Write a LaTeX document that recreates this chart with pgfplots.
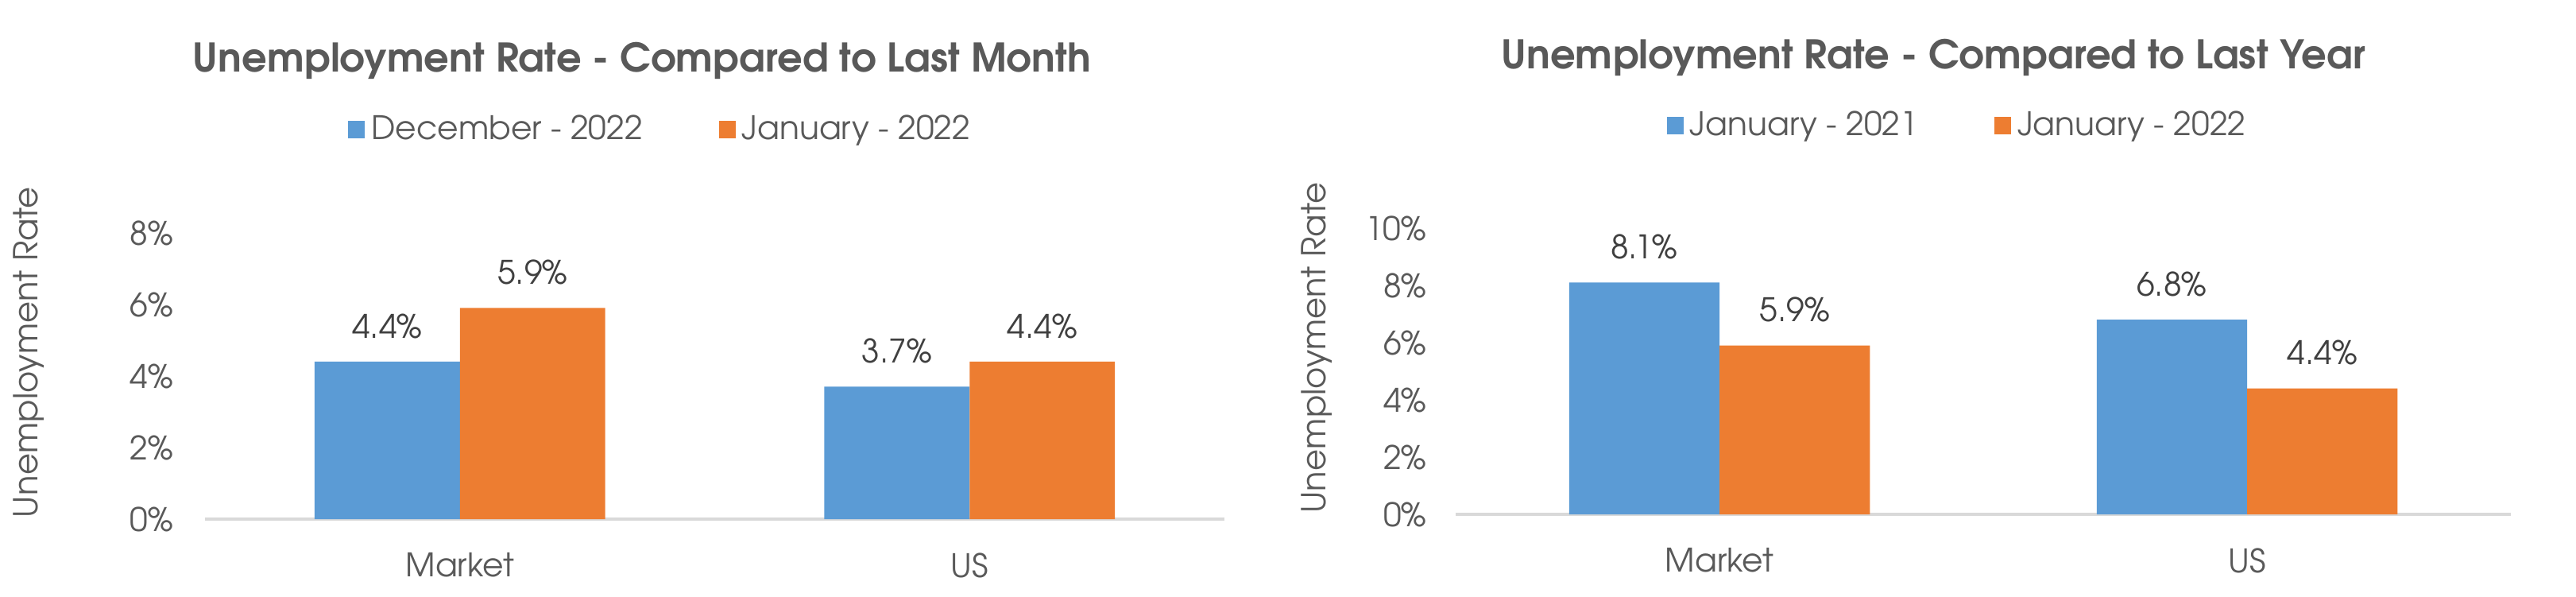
\documentclass[border=0pt]{standalone}
\usepackage{pgfplots}
\pgfplotsset{compat=1.18}
\usepackage{fontspec}
\setmainfont{texgyreadventor}[Extension=.otf, UprightFont=*-regular, BoldFont=*-bold]
\definecolor{barblue}{HTML}{5B9BD5}
\definecolor{barorange}{HTML}{ED7D31}
\definecolor{txtgray}{HTML}{595959}
\definecolor{lblgray}{HTML}{404040}
\definecolor{linegray}{HTML}{D9D9D9}
\newcommand\lblfont{\fontsize{10.2}{12}\selectfont}
\pgfplotsset{
  every axis title shift=0pt,
  unemp/.style={
    scale only axis, width=#1, height=90pt,
    ybar, bar width=0.285, enlargelimits=false, clip=false,
    xmin=-0.5, xmax=1.5, ymin=0,
    xtick={0,1}, xticklabels={Market,US},
    axis x line*=bottom, axis y line*=left,
    x axis line style={-, draw=linegray, line width=0.8pt},
    y axis line style={draw=none},
    xtick style={draw=none}, ytick style={draw=none},
    tick label style={font=\lblfont, text=txtgray},
    xticklabel style={anchor=center, yshift=-10.25pt},
    yticklabel style={anchor=east, inner sep=0pt},
    ylabel={Unemployment Rate},
    ylabel style={font=\fontsize{10.4}{12}\selectfont, text=txtgray, anchor=center, rotate=0},
    title style={font=\fontsize{12.4}{14}\selectfont\bfseries, text=txtgray, anchor=center, yshift=-1pt},
    legend columns=2,
    legend style={draw=none, fill=none, font=\lblfont, text=txtgray,
      anchor=center, /tikz/every even column/.append style={column sep=22pt},
      inner sep=0pt},
    legend image code/.code={\path[##1, draw=none] (0pt,-2.7pt) rectangle (5.3pt,2.7pt);},
    nodes near coords={\pgfmathprintnumber[fixed,fixed zerofill,precision=1,assume math mode=true]{\pgfplotspointmeta}\%},
    every node near coord/.append style={font=\lblfont, text=lblgray, anchor=center, yshift=11.25pt},
  },
}
\begin{document}
\begin{tikzpicture}
\useasboundingbox (0,0) rectangle (810.5pt,187.5pt);
\begin{axis}[unemp=320.75pt, at={(64.5pt,24.25pt)}, anchor=south west,
  ymax=8, ytick={0,2,4,6,8}, yticklabels={0\%,2\%,4\%,6\%,8\%},
  yticklabel style={xshift=-9.75pt},
  ylabel style={at={(axis description cs:-0.173,0.583)}},
  title={Unemployment Rate - Compared to Last Month},
  title style={at={(axis description cs:0.4287,1.614)}},
  legend style={at={(axis description cs:0.4486,1.361)}}]
\addplot[draw=none, fill=barblue, bar shift=-0.1425] coordinates {(0,4.4) (1,3.7)};
\addplot[draw=none, fill=barorange, bar shift=0.1425] coordinates {(0,5.9) (1,4.4)};
\legend{December - 2022, January - 2022}
\end{axis}
\begin{axis}[unemp=332pt, at={(458pt,25.75pt)}, anchor=south west,
  ymax=10, ytick={0,2,4,6,8,10}, yticklabels={0\%,2\%,4\%,6\%,8\%,10\%},
  yticklabel style={xshift=-9pt},
  ylabel style={at={(axis description cs:-0.1318,0.581)}},
  title={Unemployment Rate - Compared to Last Year},
  title style={at={(axis description cs:0.4526,1.606)}},
  legend style={at={(axis description cs:0.4774,1.358)}}]
\addplot[draw=none, fill=barblue, bar shift=-0.1425] coordinates {(0,8.1) (1,6.8)};
\addplot[draw=none, fill=barorange, bar shift=0.1425] coordinates {(0,5.9) (1,4.4)};
\legend{January - 2021, January - 2022}
\end{axis}
\end{tikzpicture}
\end{document}
